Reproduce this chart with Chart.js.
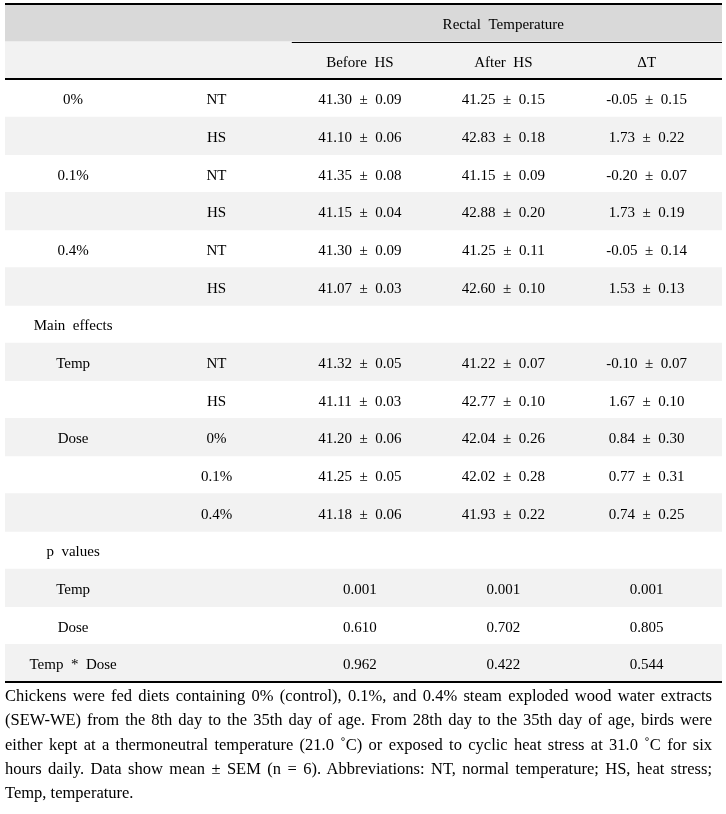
<!DOCTYPE html>
<html>
<head>
<meta charset="utf-8">
<script src="https://cdn.jsdelivr.net/npm/chart.js@4.4.1/dist/chart.umd.min.js"></script>
<style>
  html, body { margin: 0; padding: 0; background: #fff; }
  #wrap { position: relative; width: 726px; height: 814px; }
  #c { position: absolute; left: 0; top: 0; }
  #note { position: absolute; left: 5px; top: 684px; width: 707px;
          font-family: 'Liberation Serif', 'Times New Roman', serif; font-size: 16.5px;
          line-height: 24.3px; color: #000; }
  #note div { text-align: justify; text-align-last: justify; white-space: normal; }
  #note div.last { text-align-last: left; }
</style>
</head>
<body>
<div id="wrap">
  <canvas id="c" width="726" height="814"></canvas>
  <div id="note">
    <div>Chickens were fed diets containing 0% (control), 0.1%, and 0.4% steam exploded wood water extracts</div>
    <div>(SEW-WE) from the 8th day to the 35th day of age. From 28th day to the 35th day of age, birds were</div>
    <div>either kept at a thermoneutral temperature (21.0 &#x2DA;C) or exposed to cyclic heat stress at 31.0 &#x2DA;C for six</div>
    <div>hours daily. Data show mean ± SEM (n = 6). Abbreviations: NT, normal temperature; HS, heat stress;</div>
    <div class="last">Temp, temperature.</div>
  </div>
</div>
<script>
// ---- data ----
const headerGroup = 'Rectal  Temperature';
const columnHeaders = ['Before  HS', 'After  HS', '\u0394T'];
const groupLabels = ['0%', '', '0.1%', '', '0.4%', '', 'Main  effects', 'Temp', '', 'Dose', '', '', 'p  values', 'Temp', 'Dose', 'Temp  *  Dose'];
const subLabels   = ['NT', 'HS', 'NT', 'HS', 'NT', 'HS', '', 'NT', 'HS', '0%', '0.1%', '0.4%', '', '', '', ''];
const beforeMean = [41.30, 41.10, 41.35, 41.15, 41.30, 41.07, null, 41.32, 41.11, 41.20, 41.25, 41.18];
const beforeSem  = [0.09, 0.06, 0.08, 0.04, 0.09, 0.03, null, 0.05, 0.03, 0.06, 0.05, 0.06];
const afterMean  = [41.25, 42.83, 41.15, 42.88, 41.25, 42.60, null, 41.22, 42.77, 42.04, 42.02, 41.93];
const afterSem   = [0.15, 0.18, 0.09, 0.20, 0.11, 0.10, null, 0.07, 0.10, 0.26, 0.28, 0.22];
const deltaMean  = [-0.05, 1.73, -0.20, 1.73, -0.05, 1.53, null, -0.10, 1.67, 0.84, 0.77, 0.74];
const deltaSem   = [0.15, 0.22, 0.07, 0.19, 0.14, 0.13, null, 0.07, 0.10, 0.30, 0.31, 0.25];
const pTemp = ['0.001', '0.001', '0.001'];
const pDose = ['0.610', '0.702', '0.805'];
const pTempDose = ['0.962', '0.422', '0.544'];

// ---- build table rows ----
const nData = groupLabels.length;
const rowKeys = ['h0', 'h1'].concat(groupLabels.map((_, i) => 'r' + i));
const NCOL = 5;
const shadeData = rowKeys.map((k, i) => {
  if (i < 2) return [0, NCOL];
  return ((i - 2) % 2 === 1) ? [0, NCOL] : null;
});
const shadeColors = rowKeys.map((k, i) => i === 0 ? '#d9d9d9' : '#f2f2f2');

function fmt(m, s) { return m.toFixed(2) + '  \u00b1  ' + s.toFixed(2); }
const cellText = []; // [rowIndex, col, text]
cellText.push([0, 3, headerGroup]);
columnHeaders.forEach((t, j) => cellText.push([1, 2 + j, t]));
for (let i = 0; i < nData; i++) {
  const r = i + 2;
  if (groupLabels[i]) cellText.push([r, 0, groupLabels[i]]);
  if (subLabels[i]) cellText.push([r, 1, subLabels[i]]);
  if (i < beforeMean.length && beforeMean[i] !== null) {
    cellText.push([r, 2, fmt(beforeMean[i], beforeSem[i])]);
    cellText.push([r, 3, fmt(afterMean[i], afterSem[i])]);
    cellText.push([r, 4, fmt(deltaMean[i], deltaSem[i])]);
  }
}
[pTemp, pDose, pTempDose].forEach((arr, k) => {
  arr.forEach((t, j) => cellText.push([13 + 2 + k, 2 + j, t]));
});

const tablePlugin = {
  id: 'tablePlugin',
  afterDatasetsDraw(chart) {
    const { ctx, chartArea, scales } = chart;
    const xs = scales.x, ys = scales.y;
    const rowH = ys.getPixelForValue(1) - ys.getPixelForValue(0);
    const boundary = i => ys.getPixelForValue(i) + rowH / 2; // bottom edge of row i
    ctx.save();
    ctx.strokeStyle = '#000';
    ctx.lineWidth = 2;
    ctx.beginPath(); ctx.moveTo(chartArea.left, chartArea.top); ctx.lineTo(chartArea.right, chartArea.top); ctx.stroke();
    ctx.lineWidth = 1;
    const yb0 = Math.round(boundary(0)) + 0.5;
    ctx.beginPath(); ctx.moveTo(xs.getPixelForValue(2), yb0); ctx.lineTo(chartArea.right, yb0); ctx.stroke();
    ctx.lineWidth = 2;
    const yb1 = Math.round(boundary(1));
    ctx.beginPath(); ctx.moveTo(chartArea.left, yb1); ctx.lineTo(chartArea.right, yb1); ctx.stroke();
    ctx.beginPath(); ctx.moveTo(chartArea.left, chartArea.bottom); ctx.lineTo(chartArea.right, chartArea.bottom); ctx.stroke();
    ctx.fillStyle = '#000';
    ctx.font = "15px 'Liberation Serif', 'Times New Roman', serif";
    ctx.textAlign = 'center';
    ctx.textBaseline = 'alphabetic';
    cellText.forEach(([r, c, t]) => {
      const x = xs.getPixelForValue(c + 0.475);
      const y = ys.getPixelForValue(r) + 6.3;
      ctx.fillText(t, x, y);
    });
    ctx.restore();
  }
};

new Chart(document.getElementById('c'), {
  type: 'bar',
  data: {
    labels: rowKeys,
    datasets: [{
      data: shadeData,
      backgroundColor: shadeColors,
      borderWidth: 0,
      barPercentage: 1,
      categoryPercentage: 1
    }]
  },
  options: {
    indexAxis: 'y',
    responsive: false,
    animation: false,
    layout: { padding: { left: 5, right: 4, top: 4, bottom: 132 } },
    scales: {
      x: { type: 'linear', min: 0, max: NCOL, display: false },
      y: { type: 'category', display: false, offset: true }
    },
    plugins: { legend: { display: false }, tooltip: { enabled: false } }
  },
  plugins: [tablePlugin]
});
</script>
</body>
</html>
